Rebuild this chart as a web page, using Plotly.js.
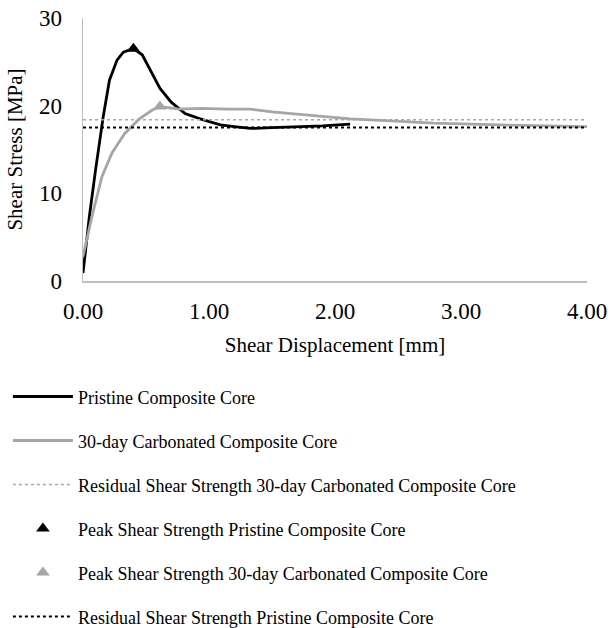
<!DOCTYPE html>
<html>
<head>
<meta charset="utf-8">
<script src="https://cdn.plot.ly/plotly-3.0.1.min.js"></script>
<style>html,body{margin:0;padding:0;background:#fff;}#chart{width:611px;height:628px;}</style>
</head>
<body>
<div id="chart"></div>
<script>
// Pristine composite core
const pristineX = [0, 0.05, 0.10, 0.16, 0.21, 0.27, 0.32, 0.40, 0.47, 0.53, 0.61, 0.70, 0.81, 0.93, 1.09, 1.20, 1.33, 1.50, 1.72, 1.90, 2.12];
const pristineY = [0.9, 7.3, 12.7, 18.7, 22.9, 25.2, 26.1, 26.5, 25.8, 24.1, 22.0, 20.4, 19.1, 18.5, 17.8, 17.6, 17.4, 17.5, 17.6, 17.7, 17.9];
// 30-day carbonated composite core
const carbX = [0, 0.07, 0.15, 0.23, 0.33, 0.44, 0.55, 0.61, 0.76, 0.93, 1.15, 1.33, 1.50, 1.72, 1.90, 2.12, 2.52, 2.78, 3.31, 3.70, 4.00];
const carbY = [2.8, 7.3, 11.9, 14.6, 16.8, 18.4, 19.5, 19.9, 19.6, 19.7, 19.6, 19.6, 19.3, 19.0, 18.8, 18.5, 18.2, 18.0, 17.8, 17.7, 17.6];
// Residual and peak strengths
const residualCarb = 18.4;
const residualPristine = 17.5;
const peakPristine = {x: 0.40, y: 26.5};
const peakCarb = {x: 0.61, y: 19.9};
const xRange = [0, 4];
const yRange = [0, 30];
const xTicks = [0, 1, 2, 3, 4];
const yTicks = [0, 10, 20, 30];

const font = 'Liberation Serif, Times New Roman, serif';
const traces = [
  {x: pristineX, y: pristineY, mode: 'lines', name: 'Pristine Composite Core',
   line: {color: '#000000', width: 2.8}, legendgroup: 'a'},
  {x: carbX, y: carbY, mode: 'lines', name: '30-day Carbonated Composite Core',
   line: {color: '#a6a6a6', width: 2.8}, legendgroup: 'b'},
  {x: xRange, y: [residualCarb, residualCarb], mode: 'lines', name: 'Residual Shear Strength 30-day Carbonated Composite Core',
   line: {color: '#a6a6a6', width: 1.5, dash: 'dot'}, legendgroup: 'c'},
  {x: [peakPristine.x], y: [peakPristine.y], mode: 'markers', name: 'Peak Shear Strength Pristine Composite Core',
   marker: {symbol: 'triangle-up', color: '#000000', size: 12}, legendgroup: 'd'},
  {x: [peakCarb.x], y: [peakCarb.y], mode: 'markers', name: 'Peak Shear Strength 30-day Carbonated Composite Core',
   marker: {symbol: 'triangle-up', color: '#a6a6a6', size: 12}, legendgroup: 'e'},
  {x: xRange, y: [residualPristine, residualPristine], mode: 'lines', name: 'Residual Shear Strength Pristine Composite Core',
   line: {color: '#000000', width: 2, dash: 'dot'}, legendgroup: 'f'}
];

const layout = {
  width: 611, height: 628,
  margin: {l: 82.5, r: 24, t: 18, b: 347, autoexpand: false},
  paper_bgcolor: '#ffffff', plot_bgcolor: '#ffffff',
  font: {family: font, color: '#000000'},
  showlegend: true,
  legend: {
    x: -0.149, xanchor: 'left', y: -0.37, yanchor: 'top',
    orientation: 'v', font: {family: font, size: 18, color: '#000'},
    itemwidth: 60, tracegroupgap: 17.6, traceorder: 'grouped',
    bgcolor: 'rgba(0,0,0,0)'
  },
  xaxis: {
    range: xRange, tickvals: xTicks, tickformat: '.2f', automargin: false,
    showgrid: false, zeroline: false, showline: true, linecolor: '#bfbfbf', linewidth: 1.5,
    ticks: '', ticklabelstandoff: 9, tickfont: {family: font, size: 23, color: '#000'},
    title: {text: 'Shear Displacement [mm]', font: {family: font, size: 21, color: '#000'}, standoff: 14}
  },
  yaxis: {
    range: yRange, tickvals: yTicks, automargin: false,
    showgrid: false, zeroline: false, showline: true, linecolor: '#bfbfbf', linewidth: 1.5,
    ticks: '', ticklabelstandoff: 15, tickfont: {family: font, size: 23, color: '#000'},
    title: {text: 'Shear Stress [MPa]', font: {family: font, size: 21, color: '#000'}, standoff: 10}
  }
};
Plotly.newPlot('chart', traces, layout, {displayModeBar: false, staticPlot: true});
</script>
</body>
</html>
